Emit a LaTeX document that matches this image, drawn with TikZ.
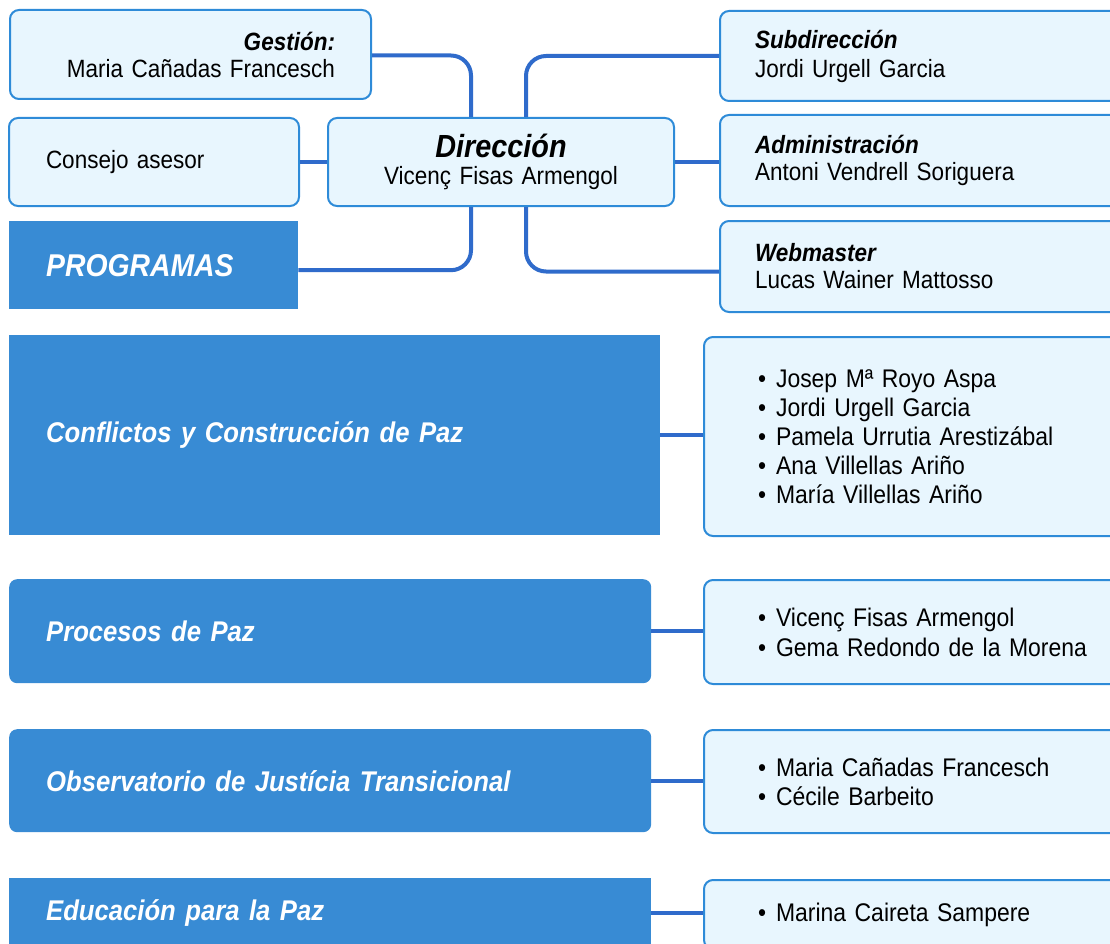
\documentclass[tikz,border=0pt]{standalone}
\usepackage{fontspec}
\setmainfont[FakeStretch=0.9]{Liberation Sans}
\usetikzlibrary{positioning,calc}
\definecolor{lineblue}{HTML}{2F6BCB}
\definecolor{boxborder}{HTML}{2E8BD8}
\definecolor{boxfill}{HTML}{E8F6FE}
\definecolor{progblue}{HTML}{388BD4}
\newcommand{\persona}{\textbullet\hspace{10pt}}

\begin{document}
\begin{tikzpicture}[x=1pt, y=-1pt, line join=round]
	\tikzstyle{every node}=[anchor=north west, inner sep=0pt, font=\fontsize{25}{27}\selectfont]
	\tikzstyle{pale}=[draw=boxborder, fill=boxfill, line width=2pt, rounded corners=9pt, align=left, text=black]
	\tikzstyle{prog}=[fill=progblue, text=white, align=left, font=\fontsize{28.5}{30}\selectfont\bfseries\itshape]
	\tikzstyle{conn}=[draw=lineblue, line width=4pt, rounded corners=20pt]
	\clip (0,0) rectangle (1110,944);
	% top block
	\node[pale, minimum width=361, minimum height=89, text width=289, align=right] (gest) at (9,9)
		{\textbf{\textit{Gestión:}}\\Maria Cañadas Francesch};
	\node[pale, minimum width=290, minimum height=88, text width=216] (cons) at (8,117) {Consejo asesor};
	\node[pale, minimum width=346, minimum height=88, text width=320, align=center] (dir) at (327,117)
		{{\fontsize{32}{31}\selectfont\textbf{\textit{Dirección}}}\\Vicenç Fisas Armengol};
	\node[prog, minimum width=289, minimum height=88, text width=215, font=\fontsize{31.5}{32}\selectfont\bfseries\itshape] (prog) at (9,221) {PROGRAMAS};
	\node[pale, minimum width=420, minimum height=90, text width=350, font=\fontsize{25}{29}\selectfont] (sub) at (719,10)
		{\textbf{\textit{Subdirección}}\\Jordi Urgell Garcia};
	\node[pale, minimum width=420, minimum height=91, text width=350] (adm) at (719,114)
		{\textbf{\textit{Administración}}\\Antoni Vendrell Soriguera};
	\node[pale, minimum width=420, minimum height=91, text width=350] (web) at (719,220)
		{\textbf{\textit{Webmaster}}\\Lucas Wainer Mattosso};
	% programas
	\node[prog, minimum width=651, minimum height=200, text width=577] (confl) at (9,335)
		{Conflictos y Construcción de Paz};
	\node[prog, rounded corners=8pt, minimum width=642, minimum height=104, text width=568] (proc) at (9,579)
		{Procesos de Paz};
	\node[prog, rounded corners=8pt, minimum width=642, minimum height=103, text width=568] (obs) at (9,729)
		{Observatorio de Justícia Transicional};
	\node[prog, minimum width=642, minimum height=70, text width=568] (edu) at (9,878)
		{Educación para la Paz};
	% personas
	\node[pale, minimum width=440, minimum height=199, text width=332, font=\fontsize{25.5}{29}\selectfont] (l1) at (703,336)
		{\persona Josep Mª Royo Aspa\\\persona Jordi Urgell Garcia\\\persona Pamela Urrutia Arestizábal\\\persona Ana Villellas Ariño\\\persona María Villellas Ariño};
	\node[pale, minimum width=440, minimum height=104, text width=332, font=\fontsize{25.5}{30}\selectfont] (l2) at (703,579)
		{\persona Vicenç Fisas Armengol\\\persona Gema Redondo de la Morena};
	\node[pale, minimum width=440, minimum height=103, text width=332, font=\fontsize{25.5}{29}\selectfont] (l3) at (703,729)
		{\persona Maria Cañadas Francesch\\\persona Cécile Barbeito};
	\node[pale, minimum width=440, minimum height=69, text width=332, font=\fontsize{25.5}{29}\selectfont] (l4) at (703,879)
		{\persona Marina Caireta Sampere};
	% connectors
	\draw[conn] ([yshift=-1pt]gest.east) -| ([xshift=-30pt]dir.north);
	\draw[conn] (sub.west) -| ([xshift=25pt]dir.north);
	\draw[conn] (cons.east) -- (cons.east -| dir.west);
	\draw[conn] (dir.east) -- (dir.east -| adm.west);
	\draw[conn] ([xshift=-30pt]dir.south) |- ([yshift=-5pt]prog.east);
	\draw[conn] ([xshift=25pt]dir.south) |- ([yshift=-5pt]web.west);
	\draw[conn] (confl.east) -- (confl.east -| l1.west);
	\draw[conn] (proc.east) -- (proc.east -| l2.west);
	\draw[conn] (obs.east) -- (obs.east -| l3.west);
	\draw[conn] (edu.east) -- (edu.east -| l4.west);
\end{tikzpicture}
\end{document}
